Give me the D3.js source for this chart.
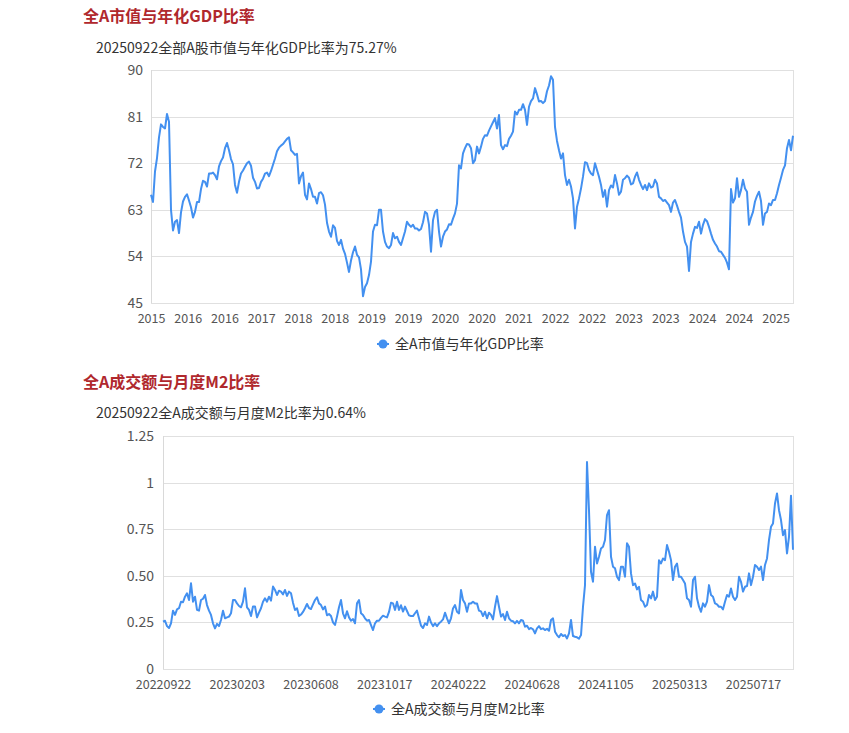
<!DOCTYPE html>
<html>
<head>
<meta charset="utf-8">
<script src="https://cdn.jsdelivr.net/npm/d3@7"></script>
<style>
  body { margin: 0; background: #fff; font-family: "Noto Sans CJK SC", "Noto Sans", sans-serif; }
</style>
</head>
<body>
<div id="chart"></div>
<script>
// 全A市值/年化GDP (%), 2015 -> 20250922
const gdpRatio = [
  65.9, 64.5, 70.4, 73.0, 77, 79.5, 79, 78.7, 81.5, 80, 63, 59, 60.7, 61, 58.5, 62.5, 64.6, 65.5, 66, 64.8,
  63.5, 61.5, 62.6, 64.5, 64.5, 67, 68.6, 68.4, 67.5, 70, 70, 70.2, 69.7, 68.9, 71.4, 72.4, 73.1, 74.9, 75.9, 74.5,
  72.8, 71.8, 67.8, 66.3, 68.4, 70, 70.6, 71.3, 72, 72.3, 71.5, 69.2, 68.4, 67.1, 67.2, 68.4, 69, 70, 70.2, 69.5,
  70.5, 71.7, 72.9, 74.3, 75, 75.4, 75.7, 76.2, 76.7, 77, 74.5, 74.1, 73.6, 73.8, 68.1, 69.5, 70.2, 65.9, 65, 68.1,
  67, 65.5, 65.5, 64.2, 66.2, 66.4, 65.8, 64, 60.5, 58.8, 57.8, 60, 59.5, 57, 56.2, 57.2, 55.5, 54.5, 52.8, 51,
  53.2, 54.8, 55.9, 54.3, 53.8, 51.5, 46.3, 48.1,
  48.8, 50.4, 53, 58.8, 60.1, 60, 63, 63, 58.8, 56.8, 55.9, 55.6, 56.2, 58.5, 57.5, 57.8, 56.8, 56.2, 57.5, 58.8,
  60.7, 60.1, 59.7, 60.1, 59.4, 59.4, 59, 59.3, 60.6, 62.6, 62.3, 60.1, 54.9, 61, 62.6, 63, 58.8, 55.9, 57.8, 58.8,
  59.2, 60.2, 60.1, 61.3, 62.3, 64.2, 71.6, 71, 73.9, 74.9, 75.7, 75.6, 74.9, 72, 72.6, 75.2, 73.9, 75.2, 76.7, 77.4,
  77.3, 78.3, 79.1, 79.9, 80.7, 78.7, 81.3, 75.5, 74.7, 75.5, 75.3, 76.7, 77.3, 78.1, 82, 81.4, 82.3, 82.3, 83.4, 82.3,
  79.4, 82.9, 84, 84.5, 86.5, 85.3, 83.9, 84, 83.6, 84, 85.9, 87, 88.8, 88.1, 79, 76.3, 74.5, 72.9, 73.9, 69.7,
  67.8, 68.8, 67.5, 65.2, 59.4, 63.6, 65.2,
  67.1, 69.4, 72.2, 72, 70.7, 70, 69.7, 72, 70.7, 69.4, 67.8, 65.5, 66.8, 63.6, 66.8, 67.7, 67.3, 69.7, 68.1, 65.9,
  66.5, 68.8, 69.1, 69.6, 69.2, 67.9, 68.1, 69.4, 70.2, 68.8, 67.8, 67, 67.8, 66.8, 68.1, 67.3, 67.5, 68.8, 68.1, 65.5,
  65.2, 64.7, 64.9, 64.4, 63.9, 62.6, 64.4, 64.9, 63.8, 62.6, 61.5, 58.8, 56.8, 55.9, 51.2, 56.8, 58.4, 59.7, 59.5, 60.7,
  58.4, 60.1, 61.2, 60.8, 59.7, 58.4, 57.2, 56.5, 55.9, 55, 54.9, 54.3, 53.7, 52.8, 51.5, 67, 64.4, 65.2, 69.1, 65.5,
  66.8, 68.8, 67.1, 66.5, 60.1, 61.5, 62.6, 64.6, 65.7, 66.5, 64.7, 60.1, 62.3, 62.6, 64.2, 63.9, 64.9, 64.9, 66.2, 67.8,
  69.2, 70.7, 71.6, 74.9, 76.5, 74.5, 77.3
]
const gdpTickLabels = ["2015", "2016", "2016", "2017", "2018", "2018", "2019", "2019", "2020",
                       "2020", "2021", "2022", "2022", "2023", "2023", "2024", "2024", "2025"]
const gdpYTicks = [45, 54, 63, 72, 81, 90]

// 全A成交额/月度M2 (%), 20220922 -> 20250922
const turnoverRatio = [
  0.254, 0.259, 0.23, 0.22, 0.245, 0.313, 0.29, 0.32, 0.326, 0.361, 0.358, 0.388, 0.406, 0.37, 0.46, 0.361, 0.388, 0.317, 0.313, 0.37,
  0.377, 0.397, 0.343, 0.313, 0.29, 0.245, 0.218, 0.242, 0.23, 0.263, 0.313, 0.272, 0.277, 0.281, 0.299, 0.37, 0.37, 0.352, 0.338, 0.331,
  0.361, 0.433, 0.331, 0.317, 0.284, 0.335, 0.335, 0.277, 0.302, 0.326, 0.361, 0.379, 0.361, 0.388, 0.367, 0.442, 0.424, 0.397, 0.42, 0.415,
  0.4, 0.424, 0.392, 0.415, 0.406, 0.356, 0.317, 0.326, 0.284, 0.292, 0.306, 0.326, 0.349, 0.327, 0.322, 0.347, 0.37, 0.385, 0.352, 0.343,
  0.32, 0.335, 0.288, 0.295, 0.284, 0.25, 0.236, 0.281, 0.331, 0.37, 0.299, 0.272, 0.31, 0.277, 0.259, 0.268, 0.245, 0.352, 0.37, 0.299,
  0.29, 0.272, 0.259, 0.263, 0.236, 0.209, 0.245, 0.259, 0.259, 0.274, 0.286, 0.281, 0.277, 0.306, 0.356, 0.352, 0.317, 0.361, 0.317, 0.342,
  0.308, 0.335, 0.311, 0.288, 0.284, 0.284, 0.299, 0.313, 0.272, 0.233, 0.22, 0.245, 0.236, 0.281, 0.249, 0.23, 0.245, 0.23, 0.245, 0.254,
  0.266, 0.302, 0.272, 0.245,
  0.272, 0.325, 0.343, 0.307, 0.298, 0.424, 0.37, 0.352, 0.307, 0.352, 0.352, 0.361, 0.352, 0.352, 0.313, 0.309, 0.284, 0.307, 0.272, 0.302,
  0.29, 0.266, 0.334, 0.391, 0.334, 0.281, 0.295, 0.263, 0.307, 0.272, 0.259, 0.256, 0.245, 0.258, 0.245, 0.263, 0.259, 0.227, 0.232, 0.214,
  0.22, 0.213, 0.191, 0.218, 0.23, 0.214, 0.218, 0.209, 0.216, 0.205, 0.263, 0.272, 0.2, 0.182, 0.17, 0.188, 0.177, 0.182, 0.164, 0.191,
  0.263, 0.177, 0.173, 0.17, 0.163, 0.182, 0.334, 0.45, 1.11, 0.85, 0.522, 0.468, 0.656, 0.566, 0.602, 0.647, 0.656, 0.692, 0.826, 0.852,
  0.602, 0.549, 0.54, 0.495, 0.477, 0.549, 0.549, 0.495, 0.674, 0.656, 0.513, 0.45, 0.459, 0.427, 0.441, 0.37, 0.361, 0.334, 0.343, 0.397,
  0.379, 0.415, 0.37, 0.388, 0.584, 0.566, 0.593, 0.584, 0.665, 0.629, 0.584, 0.477, 0.549, 0.566, 0.495, 0.495, 0.477, 0.459, 0.379, 0.37,
  0.334, 0.477, 0.495, 0.379, 0.334, 0.307, 0.352, 0.334, 0.361, 0.45, 0.397, 0.388, 0.352, 0.347, 0.334, 0.334, 0.32, 0.361, 0.397, 0.388,
  0.432, 0.388, 0.37, 0.388, 0.495, 0.468, 0.415, 0.441, 0.445, 0.513, 0.45, 0.495, 0.558, 0.549, 0.531, 0.549, 0.477, 0.558, 0.593, 0.692,
  0.763, 0.781, 0.888, 0.942, 0.852, 0.799, 0.718, 0.745, 0.62, 0.709, 0.93, 0.64
]
const turnoverTickLabels = ["20220922", "20230203", "20230608", "20231017", "20240222",
                            "20240628", "20241105", "20250313", "20250717"]
const turnoverYTicks = [0, 0.25, 0.5, 0.75, 1, 1.25]
const turnoverYLabels = ["0", "0.25", "0.50", "0.75", "1", "1.25"]

const lineColor = "#4390f0"
const titleColor = "#b0282d"

const svg = d3.select("#chart")
              .append("svg")
              .attr("width", 849)
              .attr("height", 733)

function drawPanel(p) {
    const w = p.right - p.left
    const h = p.bottom - p.top

    svg.append("text")
       .attr("x", 83).attr("y", p.titleY)
       .attr("fill", titleColor)
       .attr("font-size", 16).attr("font-weight", "bold")
       .text(p.title)

    svg.append("text")
       .attr("x", 96).attr("y", p.subtitleY)
       .attr("fill", "#333")
       .attr("font-size", 14)
       .text(p.subtitle)

    const g = svg.append("g")
                 .attr("transform", "translate(" + p.left + "," + p.top + ")")

    const x = d3.scaleLinear()
                .domain([0, p.values.length - 1])
                .range([0, w - 1])

    const y = d3.scaleLinear()
                .domain(d3.extent(p.yTicks))
                .range([h, 0])

    // gridlines
    g.append("g")
     .selectAll("line")
     .data(p.yTicks)
     .join("line")
     .attr("x1", 0).attr("x2", w)
     .attr("y1", d => Math.round(y(d)) + 0.5)
     .attr("y2", d => Math.round(y(d)) + 0.5)
     .attr("stroke", "#e0e0e0")

    g.append("line")
     .attr("x1", 0.5).attr("x2", 0.5).attr("y1", 0).attr("y2", h)
     .attr("stroke", "#d9d9d9")
    g.append("line")
     .attr("x1", w - 0.5).attr("x2", w - 0.5).attr("y1", 0).attr("y2", h)
     .attr("stroke", "#e0e0e0")

    const yAxis = g.append("g")
                   .call(d3.axisLeft(y)
                           .tickValues(p.yTicks)
                           .tickSize(0)
                           .tickPadding(p.yPad)
                           .tickFormat((d, i) => p.yLabels[i]))
    yAxis.select(".domain").remove()
    yAxis.selectAll("text")
         .attr("font-size", 14)
         .attr("font-family", "'Noto Sans CJK SC', 'Noto Sans', sans-serif")
         .attr("fill", "#555")

    const tickPos = p.xLabels.map((d, i) => i * p.labelStep)
    const xAxis = g.append("g")
                   .attr("transform", "translate(0," + h + ")")
                   .call(d3.axisBottom(x)
                           .tickValues(tickPos)
                           .tickSize(0)
                           .tickPadding(11)
                           .tickFormat((d, i) => p.xLabels[i]))
    xAxis.select(".domain").remove()
    xAxis.selectAll("text")
         .attr("font-size", 12.5)
         .attr("font-family", "'Noto Sans CJK SC', 'Noto Sans', sans-serif")
         .attr("fill", "#555")

    const line = d3.line()
                   .x((d, i) => x(i))
                   .y(d => y(d))

    g.append("path")
     .datum(p.values)
     .attr("fill", "none")
     .attr("stroke", lineColor)
     .attr("stroke-width", 2)
     .attr("stroke-linejoin", "round")
     .attr("d", line)

    // legend
    const lg = svg.append("g")
                  .attr("transform", "translate(" + p.legendX + "," + p.legendY + ")")
    lg.append("line")
      .attr("x1", -6).attr("x2", 6)
      .attr("stroke", lineColor).attr("stroke-width", 2)
    lg.append("circle")
      .attr("r", 4.5)
      .attr("fill", lineColor)
    lg.append("text")
      .attr("x", 12).attr("dy", "0.35em")
      .attr("font-size", 14)
      .attr("fill", "#333")
      .text(p.legend)
}

drawPanel({
    title: "全A市值与年化GDP比率",
    subtitle: "20250922全部A股市值与年化GDP比率为75.27%",
    legend: "全A市值与年化GDP比率",
    values: gdpRatio,
    xLabels: gdpTickLabels,
    labelStep: 18.37,
    yTicks: gdpYTicks,
    yLabels: gdpYTicks.map(String),
    left: 151, right: 794, top: 70, bottom: 303,
    yPad: 8,
    titleY: 22, subtitleY: 53,
    legendX: 383, legendY: 344
})

drawPanel({
    title: "全A成交额与月度M2比率",
    subtitle: "20250922全A成交额与月度M2比率为0.64%",
    legend: "全A成交额与月度M2比率",
    values: turnoverRatio,
    xLabels: turnoverTickLabels,
    labelStep: 36.875,
    yTicks: turnoverYTicks,
    yLabels: turnoverYLabels,
    left: 163, right: 794, top: 436, bottom: 669,
    yPad: 9,
    titleY: 388, subtitleY: 418,
    legendX: 379, legendY: 709
})
</script>
</body>
</html>
